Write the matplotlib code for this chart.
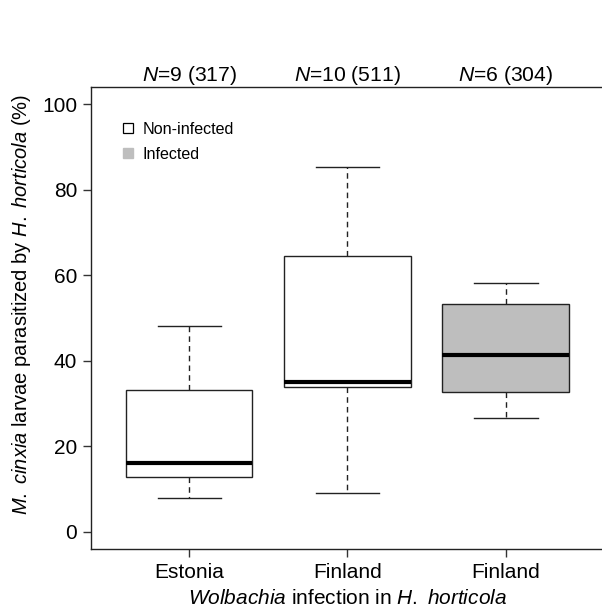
import matplotlib
matplotlib.use("Agg")
import matplotlib.pyplot as plt
from matplotlib.lines import Line2D

plt.rcParams['font.family'] = ['Liberation Sans', 'DejaVu Sans']
plt.rcParams['mathtext.fontset'] = 'custom'
plt.rcParams['mathtext.rm'] = 'Liberation Sans'
plt.rcParams['mathtext.it'] = 'Liberation Sans:italic'

# Data (percent parasitized)
categories = ["Estonia", "Finland", "Finland"]
groups = ["Non-infected", "Non-infected", "Infected"]
n_sites = [9, 10, 6]
n_larvae = [317, 511, 304]
whisker_low = [7.9, 9.0, 26.7]
q1 = [12.8, 33.8, 32.8]
median = [16.2, 35.1, 41.4]
q3 = [33.2, 64.6, 53.3]
whisker_high = [48.2, 85.2, 58.2]
yticks = [0, 20, 40, 60, 80, 100]

fill_colors = {"Non-infected": "white", "Infected": "#bebebe"}

fig = plt.figure(figsize=(6.02, 6.10), dpi=100)
ax = fig.add_axes([91/602, 61/610, (604-91)/602, (549-87)/610])

stats = []
for i in range(len(categories)):
    stats.append(dict(med=median[i], q1=q1[i], q3=q3[i],
                      whislo=whisker_low[i], whishi=whisker_high[i], fliers=[]))
positions = list(range(1, len(categories) + 1))
bp = ax.bxp(stats, positions=positions, widths=0.8, patch_artist=True,
            showfliers=False,
            boxprops=dict(edgecolor='#222222', linewidth=1.0),
            medianprops=dict(color='black', linewidth=3.0, solid_capstyle='butt'),
            whiskerprops=dict(color='#222222', linewidth=1.0, linestyle=(0, (4, 3))),
            capprops=dict(color='#222222', linewidth=1.0),
            capwidths=0.4)
for patch, g in zip(bp['boxes'], groups):
    patch.set_facecolor(fill_colors[g])

ax.set_xlim(0.38, 3.62)
ax.set_ylim(-4, 104)
ax.set_yticks(yticks)
ax.set_yticklabels([str(v) for v in yticks])
ax.set_xticks(positions)
ax.set_xticklabels(categories)
ax.tick_params(axis='both', direction='out', length=6, width=1, labelsize=15,
               color='#333333', pad=4)
for s in ax.spines.values():
    s.set_linewidth(1.0)
    s.set_color('#222222')

for p, n, l in zip(positions, n_sites, n_larvae):
    ax.text(p, 1.0, r"$\mathit{N}$=%d (%d)" % (n, l), transform=ax.get_xaxis_transform(),
            ha='center', va='bottom', fontsize=15.2)

ax.set_ylabel(r"$\mathit{M.}$ $\mathit{cinxia}$ larvae parasitized by $\mathit{H.}$ $\mathit{horticola}$ (%)",
              fontsize=14.5, labelpad=6)
ax.yaxis.set_label_coords(-0.113, 0.530)
ax.set_xlabel(r"$\mathit{Wolbachia}$ infection in $\mathit{H.}$ $\mathit{horticola}$",
              fontsize=15, labelpad=5)

handles = [Line2D([], [], linestyle='none', marker='s', markersize=7.5,
                  markerfacecolor='white', markeredgecolor='black', markeredgewidth=0.9),
           Line2D([], [], linestyle='none', marker='s', markersize=7,
                  markerfacecolor='#bebebe', markeredgecolor='#bebebe')]
ax.legend(handles, ["Non-infected", "Infected"], loc='upper left',
          bbox_to_anchor=(122/602, 1 - 122/610), bbox_transform=fig.transFigure,
          frameon=False, fontsize=11.6, handlelength=0.8, handletextpad=0.45,
          borderpad=0, borderaxespad=0, labelspacing=0.62)

fig.savefig("out.png", dpi=100)
